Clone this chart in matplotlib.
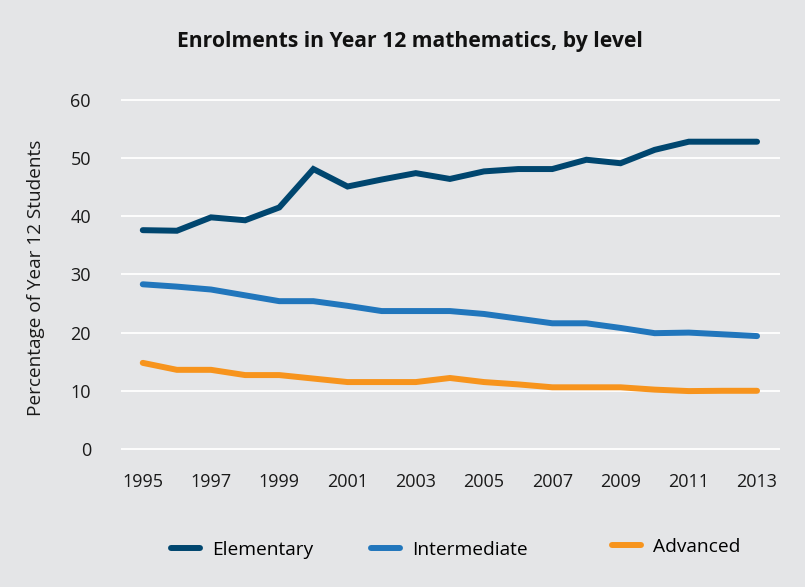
import matplotlib
matplotlib.use("Agg")
import matplotlib.pyplot as plt
from matplotlib.lines import Line2D

# Data
years = list(range(1995, 2014))
elementary = [37.6, 37.5, 39.8, 39.3, 41.5, 48.1, 45.1, 46.3, 47.4, 46.4,
              47.7, 48.1, 48.1, 49.7, 49.1, 51.4, 52.8, 52.8, 52.8]
intermediate = [28.3, 27.9, 27.4, 26.4, 25.4, 25.4, 24.6, 23.7, 23.7, 23.7,
                23.2, 22.4, 21.6, 21.6, 20.8, 19.9, 20.0, 19.7, 19.4]
advanced = [14.8, 13.6, 13.6, 12.7, 12.7, 12.1, 11.5, 11.5, 11.5, 12.2,
            11.5, 11.1, 10.6, 10.6, 10.6, 10.2, 9.95, 10.0, 10.0]

series_names = ["Elementary", "Intermediate", "Advanced"]
colors = ["#00466f", "#2176bc", "#f7941d"]
xtick_years = list(range(1995, 2014, 2))
yticks = [0, 10, 20, 30, 40, 50, 60]

bg = "#e4e5e7"
plt.rcParams["font.family"] = ["Open Sans", "DejaVu Sans"]

fig = plt.figure(figsize=(8.05, 5.87), dpi=100, facecolor=bg)
ax = fig.add_axes([0.150, 0.2252, 0.819, 0.6147], facecolor=bg)

for vals, col in zip([elementary, intermediate, advanced], colors):
    ax.plot(years, vals, color=col, lw=4.3, solid_capstyle="round",
            solid_joinstyle="miter", zorder=3)

ax.set_xlim(1994.355, 2013.674)
ax.set_ylim(-1, 61)
ax.set_yticks(yticks)
ax.set_xticks(xtick_years)
ax.tick_params(length=0, labelsize=13, colors="#1a1a1a")
ax.tick_params(axis="x", pad=13)
ax.tick_params(axis="y", pad=21.5)
ax.grid(axis="y", color="white", lw=1.3)
ax.set_axisbelow(True)
for s in ax.spines.values():
    s.set_visible(False)

fig.text(36 / 805, 1 - 277.5 / 587, "Percentage of Year 12 Students",
         rotation=90, ha="center", va="center", fontsize=13.7,
         color="#1a1a1a")

fig.text(409.5 / 805, 1 - 42 / 587, "Enrolments in Year 12 mathematics, by level",
         ha="center", va="center", fontsize=15.2, fontweight="bold",
         color="#111111")

# legend entries placed individually like the reference
legend_x = [171 / 805, 371 / 805, 612 / 805]
legend_y = [1 - 550 / 587, 1 - 550 / 587, 1 - 547 / 587]
for name, col, lx, ly in zip(series_names, colors, legend_x, legend_y):
    h = Line2D([], [], color=col, lw=4.3, solid_capstyle="round")
    fig.legend([h], [name], loc="center left", bbox_to_anchor=(lx, ly),
               frameon=False, fontsize=13.8, handlelength=1.5,
               handletextpad=0.63, borderpad=0, borderaxespad=0)

fig.savefig("out.png", dpi=100, facecolor=bg)
